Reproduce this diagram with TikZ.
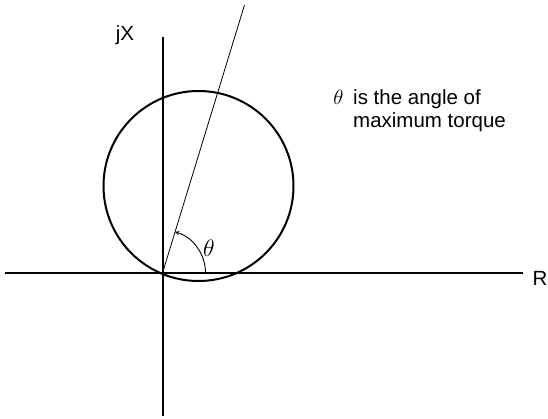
\documentclass[tikz,border=0pt]{standalone}
\usepackage{fontspec}
\setmainfont{Liberation Sans}
\begin{document}
\begin{tikzpicture}[x=1pt, y=1pt, >=stealth, every node/.style={font=\fontsize{20.5}{22}\selectfont, inner sep=0pt}]

	% 0. canvas (origin at the axes' crossing)
	\useasboundingbox (-162.5,-145) rectangle (385.5,273);

	% 1. axes layer
	\coordinate (O) at (0,0);
	\coordinate (yB) at (0,-143);
	\coordinate (yT) at (0,236);
	\coordinate (xL) at (-157.5,0);
	\coordinate (xR) at (360.5,0);
	\draw[line width=2pt] (yB) -- (yT);
	\draw[line width=2pt] (xL) -- (xR);
	\node (lblX) at (-37.5,238) {jX};
	\node (lblR) at (377.5,-5) {R};

	% 2. circle and ray layer
	\coordinate (C) at (36,87);
	\coordinate (ray) at (82,268);
	\draw[line width=2pt] (C) circle (95);
	\draw[line width=0.8pt] (O) -- (ray);

	% 3. angle arc with label
	\coordinate (arcS) at (43,0);
	\draw[line width=0.9pt, ->, >={stealth[scale=1.3]}] (arcS) arc[start angle=0, end angle=73, radius=43];
	\node[scale=1.15] (lblTheta) at (46.5,25) {$\theta$};

	% 4. note
	\node[anchor=base west] (noteA) at (190.5,168) {is the angle of};
	\node[anchor=base west] (noteB) at (190.5,146) {maximum torque};
	\node[anchor=base] (noteTheta) at (176,168) {$\theta$};

\end{tikzpicture}
\end{document}
